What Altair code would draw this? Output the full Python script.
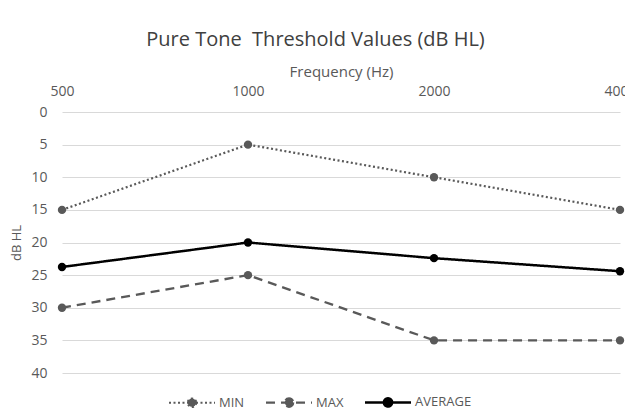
import altair as alt
import pandas as pd

freqs = ["500", "1000", "2000", "4000"]
series = ["MIN", "MAX", "AVERAGE"]
min_vals = [15, 5, 10, 15]
max_vals = [30, 25, 35, 35]
avg_vals = [23.75, 20, 22.4, 24.4]

rows = []
for name, vals in zip(series, [min_vals, max_vals, avg_vals]):
    for f, v in zip(freqs, vals):
        rows.append({"Frequency": f, "dB": v, "Series": name})
df = pd.DataFrame(rows)

FONT = "Open Sans"
TXT = "#595959"
colors = ["#595959", "#595959", "#000000"]
dashes = [[2, 2.5], [9, 6], [1, 0]]
widths = [2.2, 2.5, 3]

sym = "M-2,0H2M0.36,0A0.36,0.36,0,1,1,-0.36,0A0.36,0.36,0,1,1,0.36,0Z"

x = alt.X("Frequency:N", sort=freqs,
          scale=alt.Scale(type="point", padding=0),
          axis=alt.Axis(orient="top", title="Frequency (Hz)", labelAngle=0,
                        tickSize=0, labelPadding=14, titlePadding=5,
                        labelFontSize=14, titleFontSize=15, labelFont=FONT,
                        titleFont=FONT, titleFontWeight="normal",
                        labelColor=TXT, titleColor=TXT,
                        domain=False, gridColor="#d9d9d9"))
y = alt.Y("dB:Q", scale=alt.Scale(domain=[0, 40], reverse=True, nice=False),
          axis=alt.Axis(title="dB HL", values=list(range(0, 45, 5)), tickSize=0,
                        labelPadding=15, titlePadding=7, labelFontSize=14,
                        titleFontSize=13, labelFont=FONT, titleFont=FONT,
                        titleFontWeight="normal", labelColor=TXT,
                        titleColor=TXT, domain=False, gridColor="#d9d9d9"))

color = alt.Color("Series:N", sort=series,
                  scale=alt.Scale(domain=series, range=colors),
                  legend=alt.Legend(title=None, orient="none", direction="horizontal",
                                    legendX=117, legendY=277,
                                    symbolType=sym, symbolSize=529, symbolStrokeWidth=2.5,
                                    symbolFillColor="#595959",
                                    labelFont=FONT, labelFontSize=13, labelColor=TXT,
                                    columnPadding=16, labelOffset=14))
dash = alt.StrokeDash("Series:N", sort=series,
                      scale=alt.Scale(domain=series, range=dashes), legend=None)
sw = alt.StrokeWidth("Series:N", sort=series,
                     scale=alt.Scale(domain=series, range=widths), legend=None)

base = alt.Chart(df)
lines = base.mark_line().encode(x=x, y=y, color=color, strokeDash=dash, strokeWidth=sw)
points = base.mark_circle(size=70, opacity=1).encode(
    x=x, y=y, color=alt.Color("Series:N", sort=series,
                              scale=alt.Scale(domain=series, range=colors), legend=None))

chart = alt.layer(lines, points).resolve_scale(color="shared").properties(
    width=558, height=261,
    title=alt.TitleParams("Pure Tone\u00a0 Threshold Values (dB HL)", font=FONT, fontSize=20,
                          fontWeight="normal", color="#404040", offset=14, frame="bounds",
                          anchor="middle", dx=-8),
    autosize=alt.AutoSizeParams(type="none"),
    padding={"left": 54, "top": 104, "right": 5, "bottom": 35},
).configure_view(stroke=None)

chart.save("out.html", embed_options={"renderer": "svg", "actions": False})
